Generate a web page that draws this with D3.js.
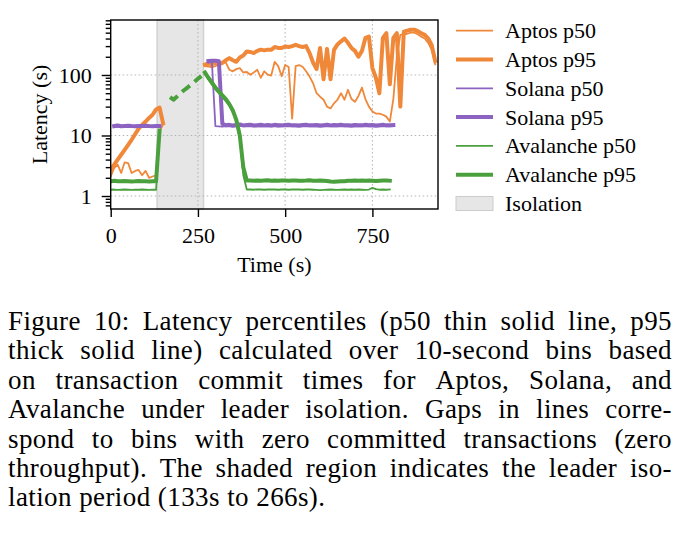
<!DOCTYPE html>
<html>
<head>
<meta charset="utf-8">
<script src="https://cdn.jsdelivr.net/npm/d3@7"></script>
<style>
  body { margin: 0; background: #fff; }
  svg text { font-family: "Liberation Serif", "Times New Roman", serif; fill: #000; }
</style>
</head>
<body>
<svg id="chart" width="680" height="537"></svg>
<script>
// 10-second bins (bin start, seconds)
var times = [
  0, 10, 20, 30, 40, 50, 60, 70, 80, 90,
  100, 110, 120, 130, 140, 150, 160, 170, 180, 190,
  200, 210, 220, 230, 240, 250, 260, 270, 280, 290,
  300, 310, 320, 330, 340, 350, 360, 370, 380, 390,
  400, 410, 420, 430, 440, 450, 460, 470, 480, 490,
  500, 510, 520, 530, 540, 550, 560, 570, 580, 590,
  600, 610, 620, 630, 640, 650, 660, 670, 680, 690,
  700, 710, 720, 730, 740, 750, 760, 770, 780, 790,
  800, 810, 820, 830, 840, 850, 860, 870, 880, 890,
  900, 910, 920, 930
];

// latency in seconds, null = bin with zero committed transactions
var aptosP50 = [
  2.1, 2.9, 3.3, 2.4, 3.6, 3.5, 2.4, 2.6, 2.7, 2.2,
  2.6, 2.0, 2.1, 2.2, 12, 15, null, null, null, null,
  null, null, null, null, null, null, null, 140, 138, 135,
  140, 150, 160, 160, 122, 115, 125, 130, 110, 112,
  101, 110, 122, 90, 115, 101, 98, 165, 140, 95,
  146, 135, 19, 140, 146, 137, 115, 94, 73, 50,
  44, 39, 30, 28, 34, 39, 50, 39, 57, 40,
  36, 45, 62, 40, 30, 25, 23, 23, 22, 20.5,
  17, 40, 200, 460, 470, 480, 500, 500, 470, 430,
  400, 340, 260, 150
];
var aptosP95 = [
  2.7, 3.3, 4.0, 4.8, 5.8, 7.0, 8.5, 10.5, 13, 15,
  17, 19.5, 22, 27, 29, 16, null, null, null, null,
  null, null, null, null, null, null, null, 148, 155, 150,
  160, 150, 158, 175, 190, 175, 165, 195, 210, 245,
  240, 230, 250, 262, 255, 262, 260, 290, 280, 280,
  295, 290, 300, 315, 300, 290, 300, 230, 160, 125,
  280, 85, 270, 85, 260, 320, 360, 400, 340, 280,
  250, 200, 250, 410, 430, 130, 90, 50, 410, 490,
  70, 410, 490, 30, 520, 540, 560, 560, 530, 490,
  460, 400, 310, 170
];
var solanaP50 = [
  null, 13.8, 14.0, 13.7, 13.9, 14.0, 13.8, 13.7, 13.9, 13.8,
  14.0, 13.8, 13.7, 13.9, 13.8, null, null, null, null, null,
  null, null, null, null, null, null, null, null, 160, 165,
  14.3, 14.2, 14.0, 14.3, 14.1, 14.0, 14.2, 14.4, 14.1, 14.2,
  14.3, 14.1, 14.2, 14.0, 14.2, 14.3, 14.1, 14.2, 14.0, 14.1,
  14.2, 14.3, 14.1, 14.2, 14.0, 14.2, 14.3, 14.1, 14.2, 14.2,
  14.0, 14.2, 14.3, 14.1, 14.2, 14.2, 14.3, 14.1, 14.2, 14.0,
  14.2, 14.1, 14.2, 14.3, 14.1, 14.2, 14.0, 14.2, 14.3, 14.1,
  14.2, 14.3, null, null, null, null, null, null, null, null,
  null, null, null, null
];
var solanaP95 = [
  null, 14.3, 14.6, 14.2, 14.4, 14.5, 14.3, 14.2, 14.4, 14.3,
  14.5, 14.3, 14.2, 14.4, 14.3, null, null, null, null, null,
  null, null, null, null, null, null, null, null, 170, 172,
  172, 168, 15.5, 14.8, 15.0, 14.6, 14.9, 15.2, 14.7, 14.9,
  15.1, 14.6, 14.8, 15.0, 14.7, 14.9, 14.6, 15.0, 14.8, 14.7,
  14.9, 15.1, 14.7, 14.8, 14.6, 14.9, 15.0, 14.7, 14.8, 14.9,
  14.6, 14.8, 15.0, 14.7, 14.9, 14.8, 15.1, 14.7, 14.8, 14.6,
  14.9, 14.8, 14.7, 15.0, 14.8, 14.9, 14.6, 14.8, 15.0, 14.7,
  14.8, 14.9, null, null, null, null, null, null, null, null,
  null, null, null, null
];
var avalancheP50 = [
  1.27, 1.28, 1.26, 1.27, 1.28, 1.27, 1.26, 1.27, 1.27, 1.28,
  1.27, 1.26, 1.27, 1.27, 11, null, null, null, null, null,
  null, null, null, null, null, null, null, 102, 84, 70,
  58, 50, 43, 37, 31, 24, 17, 9, 2.2, 1.28,
  1.28, 1.27, 1.29, 1.28, 1.27, 1.28, 1.29, 1.28, 1.27, 1.28,
  1.28, 1.27, 1.28, 1.29, 1.28, 1.27, 1.28, 1.28, 1.27, 1.26,
  1.25, 1.26, 1.27, 1.28, 1.27, 1.26, 1.27, 1.28, 1.27, 1.28,
  1.27, 1.28, 1.27, 1.26, 1.28, 1.36, 1.30, 1.27, 1.28, 1.27,
  1.28, null, null, null, null, null, null, null, null, null,
  null, null, null, null
];
var avalancheP95 = [
  1.75, 1.78, 1.76, 1.75, 1.77, 1.76, 1.74, 1.75, 1.77, 1.76,
  1.75, 1.74, 1.76, 1.75, 12, null, null, null, null, null,
  null, null, null, null, null, null, null, 110, 90, 75,
  62, 53, 46, 40, 33, 26, 18, 10, 3, 1.8,
  1.80, 1.79, 1.81, 1.78, 1.80, 1.82, 1.79, 1.80, 1.78, 1.81,
  1.80, 1.79, 1.81, 1.80, 1.78, 1.79, 1.80, 1.82, 1.79, 1.78,
  1.80, 1.79, 1.77, 1.74, 1.72, 1.74, 1.76, 1.75, 1.78, 1.79,
  1.80, 1.79, 1.81, 1.78, 1.80, 1.79, 1.77, 1.79, 1.80, 1.81,
  1.79, null, null, null, null, null, null, null, null, null,
  null, null, null, null
];
// dashed Avalanche segment inside the isolation window
var avalancheDashTimes = [170, 180, 190, 200, 210, 220, 230, 240, 250, 260];
var avalancheDashP95 = [43, 39, 44, 50, 56, 62, 69, 77, 87, 96];

var isolation = [133, 266];
var xTicks = [0, 250, 500, 750];
var yTicks = [1, 10, 100];

var orange = "#f0883a", purple = "#8d63c1", green = "#4aa03d";
var thin = 1.8, thick = 4;

var series = [
  { label: "Aptos p50", values: aptosP50, color: orange, width: thin },
  { label: "Aptos p95", values: aptosP95, color: orange, width: thick },
  { label: "Solana p50", values: solanaP50, color: purple, width: thin },
  { label: "Solana p95", values: solanaP95, color: purple, width: thick },
  { label: "Avalanche p50", values: avalancheP50, color: green, width: thin },
  { label: "Avalanche p95", values: avalancheP95, color: green, width: thick }
];

var svg = d3.select("#chart");
var pL = 110.7, pR = 438, pT = 20, pB = 209;

var x = d3.scaleLinear().domain([0, 938]).range([pL, pR]);
var y = d3.scaleLog().domain([0.61, 810]).range([pB, pT]);

svg.append("defs").append("clipPath").attr("id", "plot")
  .append("rect").attr("x", pL).attr("y", pT)
  .attr("width", pR - pL).attr("height", pB - pT);

// isolation span
svg.append("rect")
  .attr("x", x(isolation[0])).attr("y", pT)
  .attr("width", x(isolation[1]) - x(isolation[0])).attr("height", pB - pT)
  .attr("fill", "#e6e6e6").attr("stroke", "#d2d2d2").attr("stroke-width", 1.5);

// grid
var grid = svg.append("g").attr("stroke", "#b3b3b3").attr("stroke-width", 1)
  .attr("stroke-dasharray", "1.5,2.5");
grid.selectAll(".gx").data(xTicks.slice(1)).enter().append("line")
  .attr("x1", function(d) { return x(d); }).attr("x2", function(d) { return x(d); })
  .attr("y1", pT).attr("y2", pB);
grid.selectAll(".gy").data(yTicks).enter().append("line")
  .attr("x1", pL).attr("x2", pR)
  .attr("y1", function(d) { return y(d); }).attr("y2", function(d) { return y(d); });

var plot = svg.append("g").attr("clip-path", "url(#plot)");

var line = d3.line()
  .defined(function(d) { return d[1] != null; })
  .x(function(d) { return x(d[0]); })
  .y(function(d) { return y(d[1]); });

series.forEach(function(s) {
  var pts = times.map(function(t, i) { return [t, s.values[i]]; });
  plot.append("path")
    .attr("d", line(pts))
    .attr("fill", "none")
    .attr("stroke", s.color)
    .attr("stroke-width", s.width)
    .attr("stroke-linejoin", "round")
    .attr("stroke-linecap", "square");
});

plot.append("path")
  .attr("d", line(avalancheDashTimes.map(function(t, i) { return [t, avalancheDashP95[i]]; })))
  .attr("fill", "none")
  .attr("stroke", green)
  .attr("stroke-width", thick)
  .attr("stroke-dasharray", "10,6")
  .attr("stroke-linejoin", "round");

// axes
var xAxis = svg.append("g").attr("transform", "translate(0," + pB + ")")
  .call(d3.axisBottom(x).tickValues(xTicks).tickSize(8).tickPadding(10).tickFormat(d3.format("d")));
var minor = [];
[0.1, 1, 10, 100].forEach(function(dec) {
  for (var k = 2; k <= 9; k++) {
    var v = dec * k;
    if (v >= 0.61 && v <= 810) minor.push(v);
  }
});
var yMinor = svg.append("g").attr("transform", "translate(" + pL + ",0)")
  .call(d3.axisLeft(y).tickValues(minor).tickSize(5).tickFormat(""));
var yAxis = svg.append("g").attr("transform", "translate(" + pL + ",0)")
  .call(d3.axisLeft(y).tickValues(yTicks).tickSize(9).tickPadding(10).tickFormat(d3.format("d")));

[xAxis, yAxis, yMinor].forEach(function(a) {
  a.select(".domain").remove();
  a.selectAll(".tick line").attr("stroke", "#000").attr("stroke-width", 1.4);
  a.selectAll(".tick text").style("font-family", "Liberation Serif").style("font-size", "22px");
});

svg.append("rect")
  .attr("x", pL).attr("y", pT).attr("width", pR - pL).attr("height", pB - pT)
  .attr("fill", "none").attr("stroke", "#000").attr("stroke-width", 1.4);

svg.append("text")
  .attr("x", (pL + pR) / 2).attr("y", 272)
  .attr("text-anchor", "middle").style("font-size", "22px")
  .text("Time (s)");
svg.append("text")
  .attr("transform", "translate(47," + (pT + pB) / 2 + ") rotate(-90)")
  .attr("text-anchor", "middle").style("font-size", "22px")
  .text("Latency (s)");

// legend
var legend = svg.append("g");
var rowY = function(i) { return 30.7 + i * 28.8; };
series.forEach(function(s, i) {
  legend.append("line")
    .attr("x1", 456).attr("x2", 493).attr("y1", rowY(i)).attr("y2", rowY(i))
    .attr("stroke", s.color).attr("stroke-width", s.width);
  legend.append("text")
    .attr("x", 505).attr("y", rowY(i) + 7.5).style("font-size", "22px")
    .text(s.label);
});
legend.append("rect")
  .attr("x", 456).attr("y", rowY(6) - 7).attr("width", 37).attr("height", 14)
  .attr("fill", "#e6e6e6").attr("stroke", "#cccccc").attr("stroke-width", 1);
legend.append("text")
  .attr("x", 505).attr("y", rowY(6) + 7.5).style("font-size", "22px")
  .text("Isolation");

// caption, justified
var captionLines = [
  "Figure 10:  Latency percentiles (p50 thin solid line, p95",
  "thick solid line) calculated over 10-second bins based",
  "on transaction commit times for Aptos, Solana, and",
  "Avalanche under leader isolation.  Gaps in lines corre-",
  "spond to bins with zero committed transactions (zero",
  "throughput). The shaded region indicates the leader iso-",
  "lation period (133s to 266s)."
];
var capLeft = 8, capRight = 672, capSize = 27;
var cap = svg.append("g").style("font-size", capSize + "px").style("letter-spacing", "0.4px");
captionLines.forEach(function(str, li) {
  var by = 330 + li * 29.4;
  var words = str.split(/ +/);
  var nodes = words.map(function(w) {
    return cap.append("text").attr("y", by).text(w);
  });
  var widths = nodes.map(function(n) { return n.node().getComputedTextLength(); });
  var total = d3.sum(widths);
  var last = li === captionLines.length - 1;
  var gap = last ? capSize * 0.27 : (capRight - capLeft - total) / (words.length - 1);
  var cx = capLeft;
  nodes.forEach(function(n, i) {
    n.attr("x", cx);
    cx += widths[i] + gap;
  });
});
</script>
</body>
</html>
